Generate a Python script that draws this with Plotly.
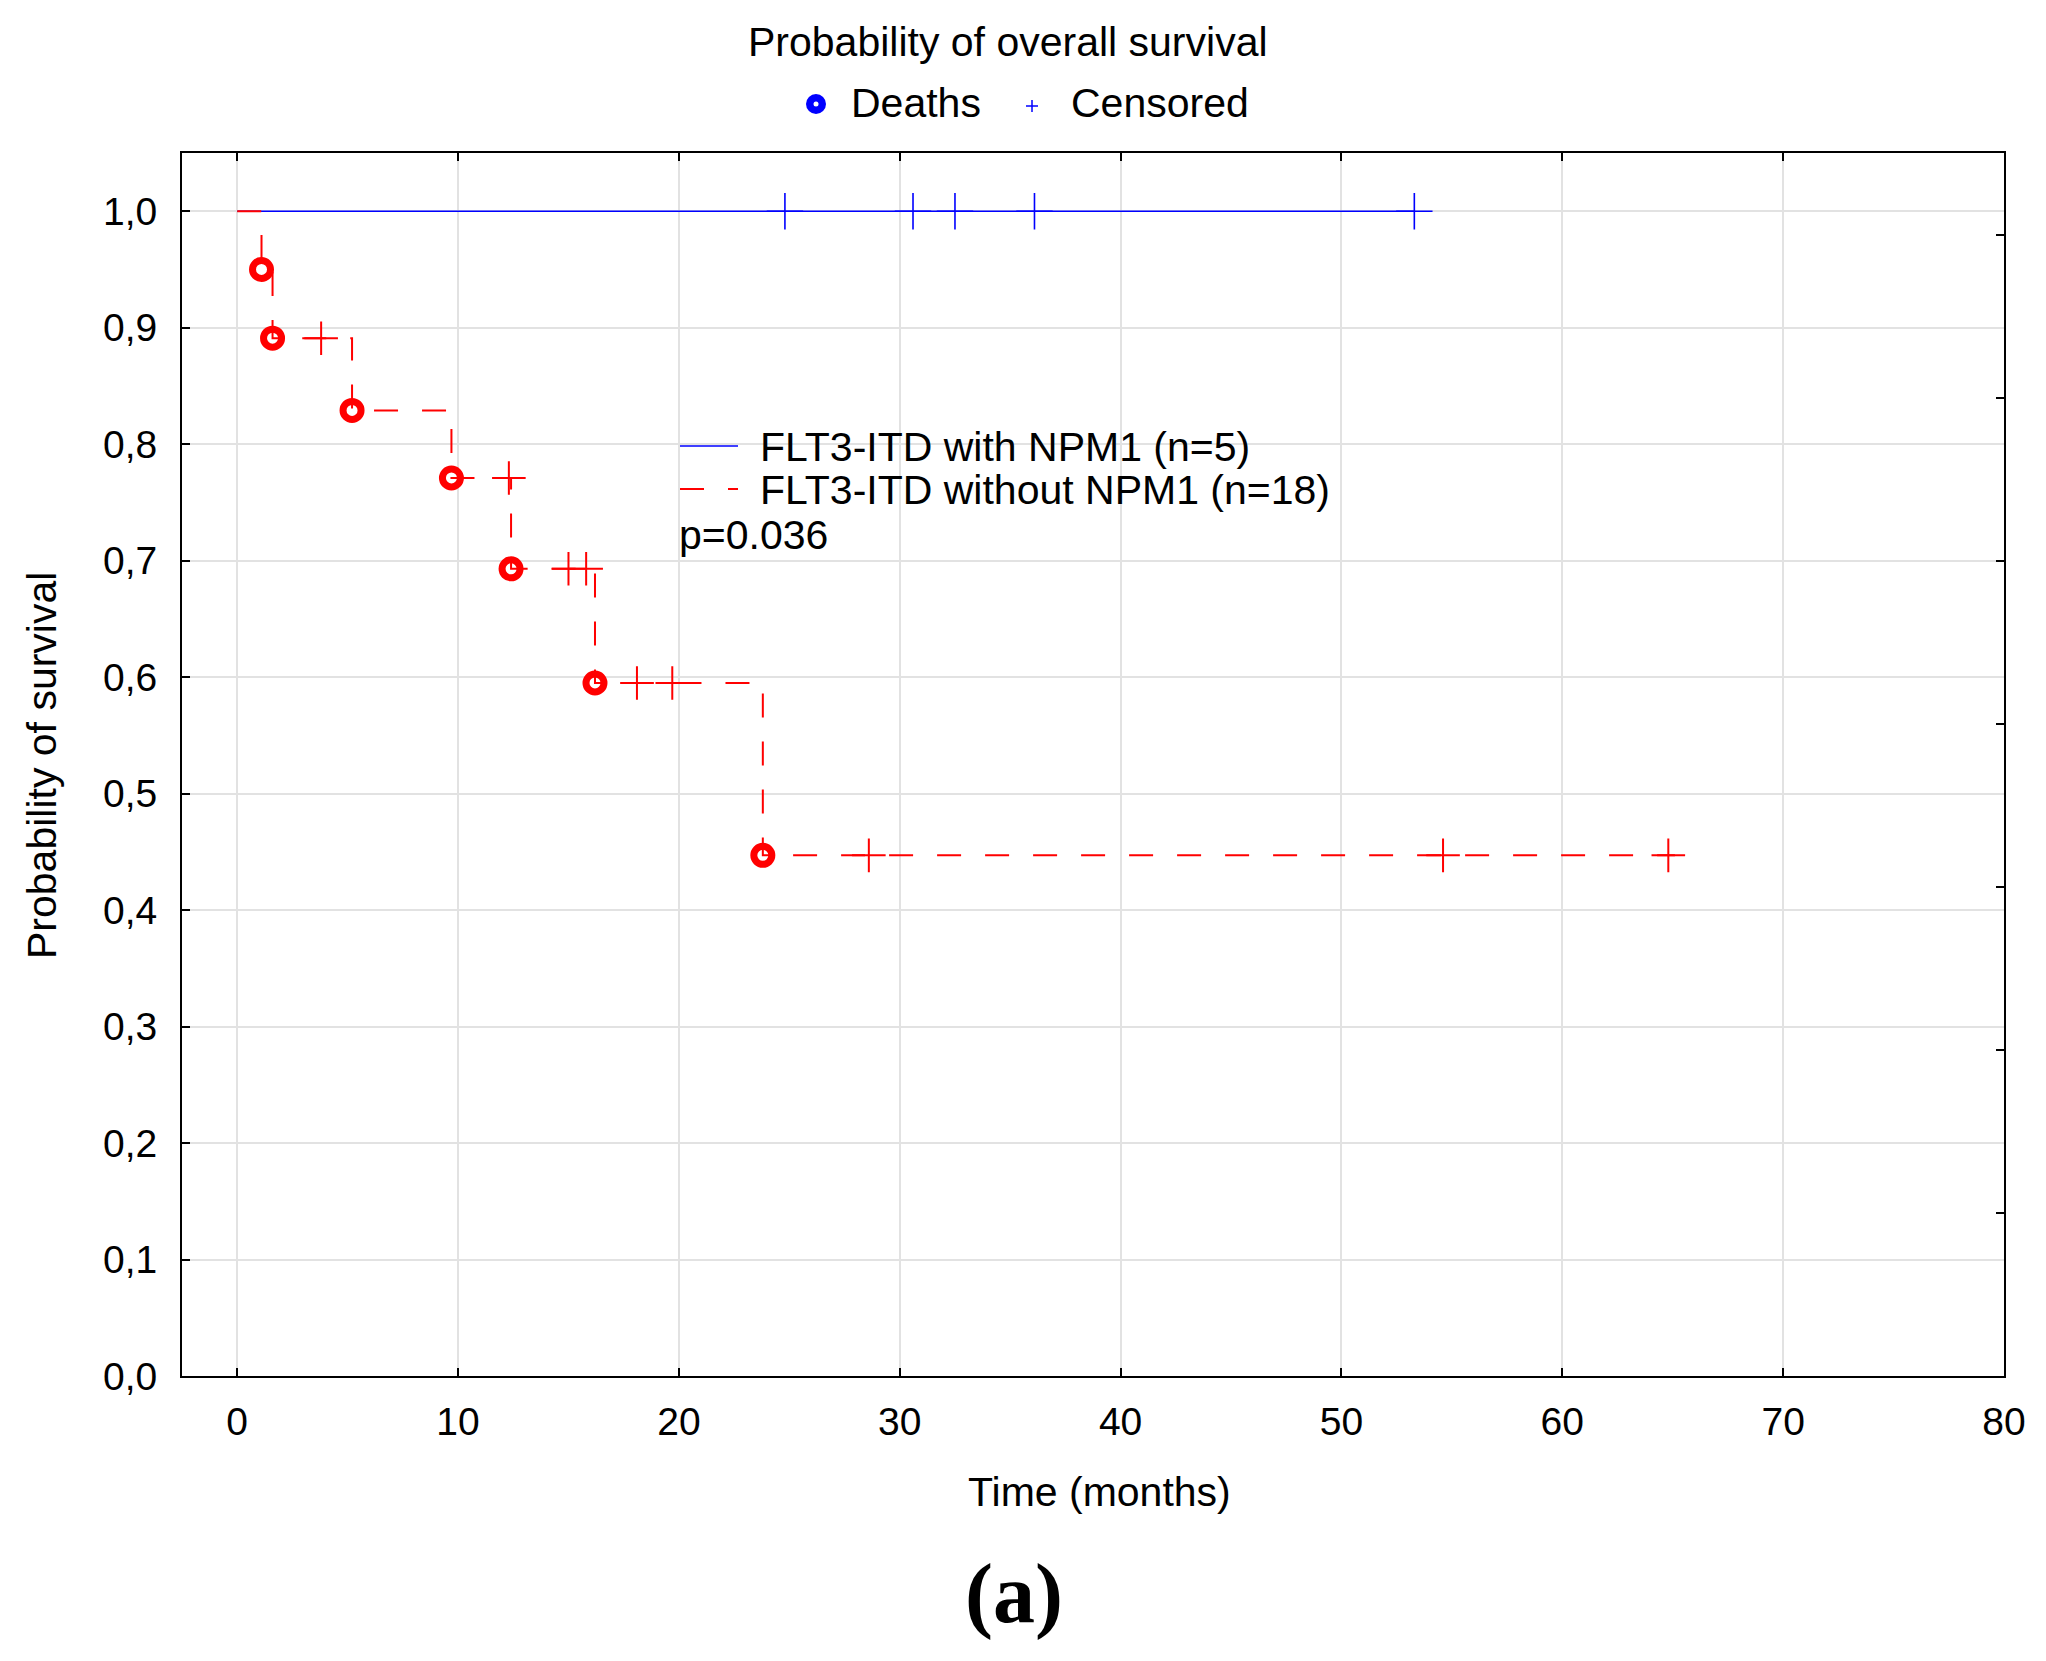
import numpy as np
import plotly.graph_objects as go

# ---------------- data ----------------
blue_censor_times = [24.8, 30.6, 32.5, 36.1, 53.3]
blue_start = 0.0

red_death_times = [1.1, 1.6, 5.2, 9.7, 12.4, 16.2, 23.8]
red_surv_after = [0.950, 0.891, 0.829, 0.771, 0.693, 0.595, 0.447]
red_censor_times = [3.8, 12.3, 15.0, 15.8, 18.1, 19.7, 28.6, 54.6, 64.8]
red_end = 65.1

x_ticks = [0, 10, 20, 30, 40, 50, 60, 70, 80]
y_ticks = [0.0, 0.1, 0.2, 0.3, 0.4, 0.5, 0.6, 0.7, 0.8, 0.9, 1.0]
right_ticks = [0.14, 0.28, 0.42, 0.56, 0.70, 0.84, 0.98]

title_text = "Probability of overall survival"
series_names = ["FLT3-ITD with NPM1 (n=5)", "FLT3-ITD without NPM1 (n=18)"]
p_text = "p=0.036"

# ---------------- layout geometry (page pixel coordinates) ----------------
OFF = 8                      # default body margin of the html page
W, H = 2046 - OFF, 1661 - OFF
L, R, T, B = 182, 2004, 153, 1376   # plot area on the page
PW, PH = R - L, B - T
FONT = "Liberation Sans, Arial, sans-serif"
BLUE = "#0000ff"
RED = "#ff0000"


def px(x):
    return (x - L) / PW


def py(y):
    return (B - y) / PH


def surv_at(t, times, surv):
    s = 1.0
    for ti, si in zip(times, surv):
        if ti <= t:
            s = si
    return s


fig = go.Figure()

# blue curve (all at 1.0)
blue_x = [blue_start, blue_censor_times[-1]]
blue_y = [1.0, 1.0]
fig.add_trace(go.Scatter(x=blue_x, y=blue_y, mode="lines",
                         line=dict(color=BLUE, width=1.5), showlegend=False,
                         hoverinfo="skip"))
fig.add_trace(go.Scatter(x=blue_censor_times, y=[1.0] * len(blue_censor_times),
                         mode="markers",
                         marker=dict(symbol="cross-thin", size=26,
                                     line=dict(color=BLUE, width=1.6)),
                         showlegend=False))

# red curve (step)
red_x = [0.0] + red_death_times + [red_end]
red_y = [1.0] + red_surv_after + [red_surv_after[-1]]
fig.add_trace(go.Scatter(x=red_x, y=red_y, mode="lines", line_shape="hv",
                         line=dict(color=RED, width=2, dash="24px,24px"),
                         showlegend=False, hoverinfo="skip"))
fig.add_trace(go.Scatter(x=red_censor_times,
                         y=[surv_at(t, red_death_times, red_surv_after) for t in red_censor_times],
                         mode="markers",
                         marker=dict(symbol="cross-thin", size=24,
                                     line=dict(color=RED, width=2)),
                         showlegend=False))
fig.add_trace(go.Scatter(x=red_death_times, y=red_surv_after, mode="markers",
                         marker=dict(symbol="circle-open", size=18, color=RED,
                                     line=dict(color=RED, width=7)),
                         showlegend=False))

# dummy trace so the right-hand tick axis is drawn
fig.add_trace(go.Scatter(x=[None], y=[None], yaxis="y2", showlegend=False,
                         hoverinfo="skip"))

annotations = []
shapes = []

# title & top legend
annotations.append(dict(text=title_text, x=px(1008), y=py(42), xref="paper", yref="paper",
                        xanchor="center", yanchor="middle", showarrow=False,
                        font=dict(family=FONT, size=41, color="black")))
shapes.append(dict(type="circle", xref="paper", yref="paper",
                   x0=px(806), x1=px(826), y0=py(114), y1=py(94),
                   fillcolor=BLUE, line=dict(color=BLUE, width=0)))
shapes.append(dict(type="circle", xref="paper", yref="paper",
                   x0=px(813.5), x1=px(818.5), y0=py(106.5), y1=py(101.5),
                   fillcolor="white", line=dict(color="white", width=0)))
annotations.append(dict(text="Deaths", x=px(849), y=py(103), xref="paper", yref="paper",
                        xanchor="left", yanchor="middle", showarrow=False,
                        font=dict(family=FONT, size=41, color="black")))
shapes.append(dict(type="line", xref="paper", yref="paper",
                   x0=px(1026), x1=px(1038), y0=py(106), y1=py(106),
                   line=dict(color=BLUE, width=1.5)))
shapes.append(dict(type="line", xref="paper", yref="paper",
                   x0=px(1032), x1=px(1032), y0=py(100), y1=py(112),
                   line=dict(color=BLUE, width=1.5)))
annotations.append(dict(text="Censored", x=px(1069), y=py(103), xref="paper", yref="paper",
                        xanchor="left", yanchor="middle", showarrow=False,
                        font=dict(family=FONT, size=41, color="black")))

# in-plot legend
shapes.append(dict(type="line", xref="paper", yref="paper",
                   x0=px(680), x1=px(738), y0=py(446), y1=py(446),
                   line=dict(color=BLUE, width=1.5)))
shapes.append(dict(type="line", xref="paper", yref="paper",
                   x0=px(680), x1=px(738), y0=py(489), y1=py(489),
                   line=dict(color=RED, width=2, dash="24px,24px")))
annotations.append(dict(text=series_names[0], x=px(758), y=py(447), xref="paper", yref="paper",
                        xanchor="left", yanchor="middle", showarrow=False,
                        font=dict(family=FONT, size=41, color="black")))
annotations.append(dict(text=series_names[1], x=px(758), y=py(490), xref="paper", yref="paper",
                        xanchor="left", yanchor="middle", showarrow=False,
                        font=dict(family=FONT, size=41, color="black")))
annotations.append(dict(text=p_text, x=px(677), y=py(535), xref="paper", yref="paper",
                        xanchor="left", yanchor="middle", showarrow=False,
                        font=dict(family=FONT, size=41, color="black")))

# axis titles
annotations.append(dict(text="Time (months)", x=px(1099), y=py(1492), xref="paper", yref="paper",
                        xanchor="center", yanchor="middle", showarrow=False,
                        font=dict(family=FONT, size=41, color="black")))
annotations.append(dict(text="Probability of survival", x=px(42), y=py(766), xref="paper",
                        yref="paper", xanchor="center", yanchor="middle", showarrow=False,
                        textangle=-90,
                        font=dict(family=FONT, size=41, color="black")))
annotations.append(dict(text="<b>(a)</b>", x=px(1014), y=py(1594), xref="paper", yref="paper",
                        xanchor="center", yanchor="middle", showarrow=False,
                        font=dict(family="Liberation Serif, Times New Roman, serif", size=84,
                                  color="black")))

fig.update_layout(
    width=W, height=H,
    margin=dict(l=L - OFF, r=W - (R - OFF), t=T - OFF, b=H - (B - OFF), pad=0),
    paper_bgcolor="white", plot_bgcolor="white",
    separators=", ",
    showlegend=False,
    annotations=annotations,
    shapes=shapes,
    xaxis=dict(range=[-2.5, 80], tickvals=x_ticks, tickformat="d",
               showgrid=True, gridcolor="#e2e2e2", gridwidth=1.5,
               zeroline=False, showline=True, linecolor="black", linewidth=2,
               mirror="ticks", ticks="inside", ticklen=8, tickwidth=2, tickcolor="black",
               ticklabelstandoff=10,
               tickfont=dict(family=FONT, size=39, color="black")),
    yaxis=dict(range=[0, 1.05], tickvals=y_ticks, tickformat=".1f",
               showgrid=True, gridcolor="#e2e2e2", gridwidth=1.5,
               zeroline=False, showline=True, linecolor="black", linewidth=2,
               mirror=True, ticks="inside", ticklen=8, tickwidth=2, tickcolor="black",
               ticklabelstandoff=15,
               tickfont=dict(family=FONT, size=39, color="black")),
    yaxis2=dict(range=[0, 1.05], overlaying="y", side="right", anchor="x",
                tickvals=right_ticks, showticklabels=False, showgrid=False,
                zeroline=False, showline=False, ticks="inside", ticklen=8,
                tickwidth=2, tickcolor="black"),
)

fig.write_html("out.html")
